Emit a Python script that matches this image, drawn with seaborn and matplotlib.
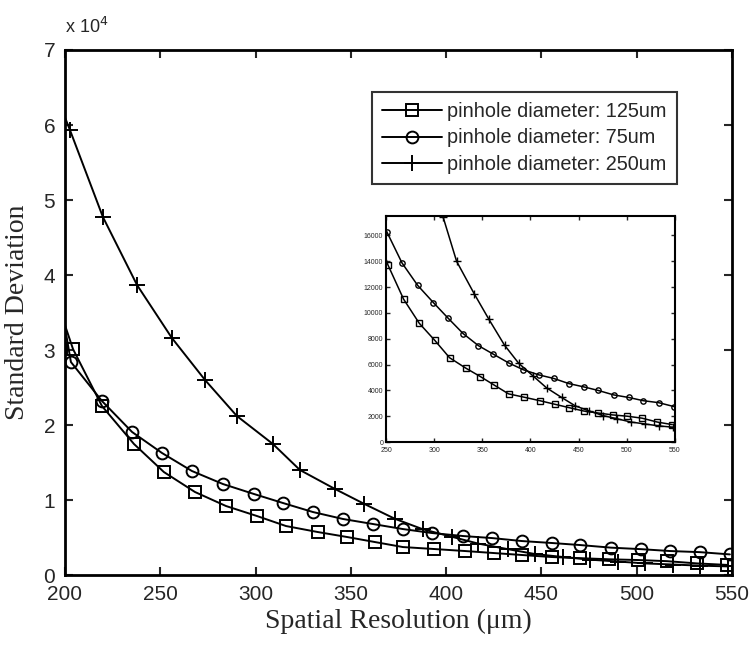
import seaborn as sns
import matplotlib
matplotlib.use('Agg')
import matplotlib.pyplot as plt

# data (first point at x=200 has no marker)
x_125 = [200, 204.2, 219.4, 236.2, 251.9, 268.2, 284.5, 300.7, 316.0, 332.7, 348.0, 362.6,
         377.3, 393.6, 409.9, 425.1, 439.8, 455.5, 470.2, 485.4, 500.6, 515.8, 531.6, 547.3]
y_125 = [33300, 30130, 22530, 17470, 13730, 11070, 9200, 7870, 6530, 5730, 5070, 4400,
         3730, 3470, 3200, 2930, 2670, 2400, 2250, 2100, 2000, 1850, 1550, 1350]

x_75 = [200, 203.1, 219.4, 235.2, 250.9, 266.6, 282.9, 299.2, 314.4, 330.1, 345.9, 361.6,
        377.3, 392.6, 408.8, 424.0, 439.8, 455.5, 470.2, 486.5, 502.2, 517.4, 533.2, 548.9]
y_75 = [33000, 28400, 23200, 19070, 16270, 13870, 12130, 10800, 9600, 8400, 7470, 6800,
        6130, 5600, 5200, 4930, 4530, 4270, 4000, 3650, 3450, 3200, 3050, 2750]

x_250 = [200, 202.6, 219.9, 237.8, 256.1, 273.5, 290.2, 309.1, 323.3, 341.7, 356.9, 373.1,
         387.8, 403.0, 416.7, 432.4, 446.6, 461.3, 475.4, 490.1, 504.3, 519.0, 533.2, 548.0]
y_250 = [61000, 59330, 47730, 38670, 31600, 26000, 21200, 17470, 14000, 11470, 9500, 7500,
         6100, 5100, 4200, 3450, 2800, 2400, 2050, 1800, 1550, 1400, 1250, 1150]

labels = ['pinhole diameter: 125um', 'pinhole diameter: 75um', 'pinhole diameter: 250um']
x_ticks = [200, 250, 300, 350, 400, 450, 500, 550]
inset_x_ticks = [250, 300, 350, 400, 450, 500, 550]
inset_y_ticks = [0, 2000, 4000, 6000, 8000, 10000, 12000, 14000, 16000]

sns.set_style('ticks')
plt.rcParams['font.family'] = ['Liberation Sans', 'DejaVu Sans']
plt.rcParams['xtick.direction'] = 'in'
plt.rcParams['ytick.direction'] = 'in'

fig = plt.figure(figsize=(7.54, 6.51), dpi=100)
ax = fig.add_axes([0.0862, 0.1167, 0.8846, 0.8065])

series = [
    (x_125, y_125, 's', 8.5, labels[0]),
    (x_75, y_75, 'o', 8.5, labels[1]),
    (x_250, y_250, '+', 12, labels[2]),
]

for xs, ys, mk, ms, lab in series:
    sns.lineplot(x=xs, y=ys, ax=ax, color='black', linewidth=1.4, marker=mk,
                 markersize=ms, markerfacecolor='none', markeredgecolor='black',
                 markeredgewidth=1.4, markevery=slice(1, None), label=lab)

ax.set_xlim(200, 550)
ax.set_ylim(0, 70000)
ax.set_xticks(x_ticks)
ax.set_yticks([i * 10000 for i in range(8)])
ax.set_yticklabels([str(i) for i in range(8)])
ax.tick_params(axis='both', labelsize=15, length=6, width=1.5, top=True, right=True, pad=7)
for sp in ax.spines.values():
    sp.set_linewidth(2)
    sp.set_color('black')

ax.set_xlabel('Spatial Resolution (μm)', family=['Liberation Serif', 'DejaVu Serif'], fontsize=20, labelpad=4)
ax.set_ylabel('Standard Deviation', family=['Liberation Serif', 'DejaVu Serif'], fontsize=20, labelpad=10)
ax.text(0.0, 1.025, 'x 10$^4$', transform=ax.transAxes, fontsize=13, ha='left', va='bottom')

leg = ax.legend(loc='upper left', bbox_to_anchor=(372 / 754, 1 - 92 / 651),
                bbox_transform=fig.transFigure, fontsize=14.3, frameon=True,
                fancybox=False, edgecolor='black', handlelength=3.0,
                handletextpad=0.3, borderpad=0.5, labelspacing=0.38, borderaxespad=0)
leg.get_frame().set_linewidth(1.5)

# inset with the same curves
ins = fig.add_axes([0.512, 0.321, 0.383, 0.347])
for xs, ys, mk, ms, lab in series:
    sns.lineplot(x=xs, y=ys, ax=ins, color='black', linewidth=1.1, marker=mk,
                 markersize=ms * 0.45, markerfacecolor='none', markeredgecolor='black',
                 markeredgewidth=1.0, markevery=slice(1, None), legend=False)
ins.set_xlim(250, 550)
ins.set_ylim(0, 17500)
ins.set_xticks(inset_x_ticks)
ins.set_yticks(inset_y_ticks)
ins.tick_params(axis='both', labelsize=5, length=3, width=1, top=True, right=True)
ins.tick_params(axis='x', pad=3.5)
ins.tick_params(axis='y', pad=2)
for sp in ins.spines.values():
    sp.set_linewidth(1.5)
    sp.set_color('black')

fig.savefig('out.png', dpi=100)
